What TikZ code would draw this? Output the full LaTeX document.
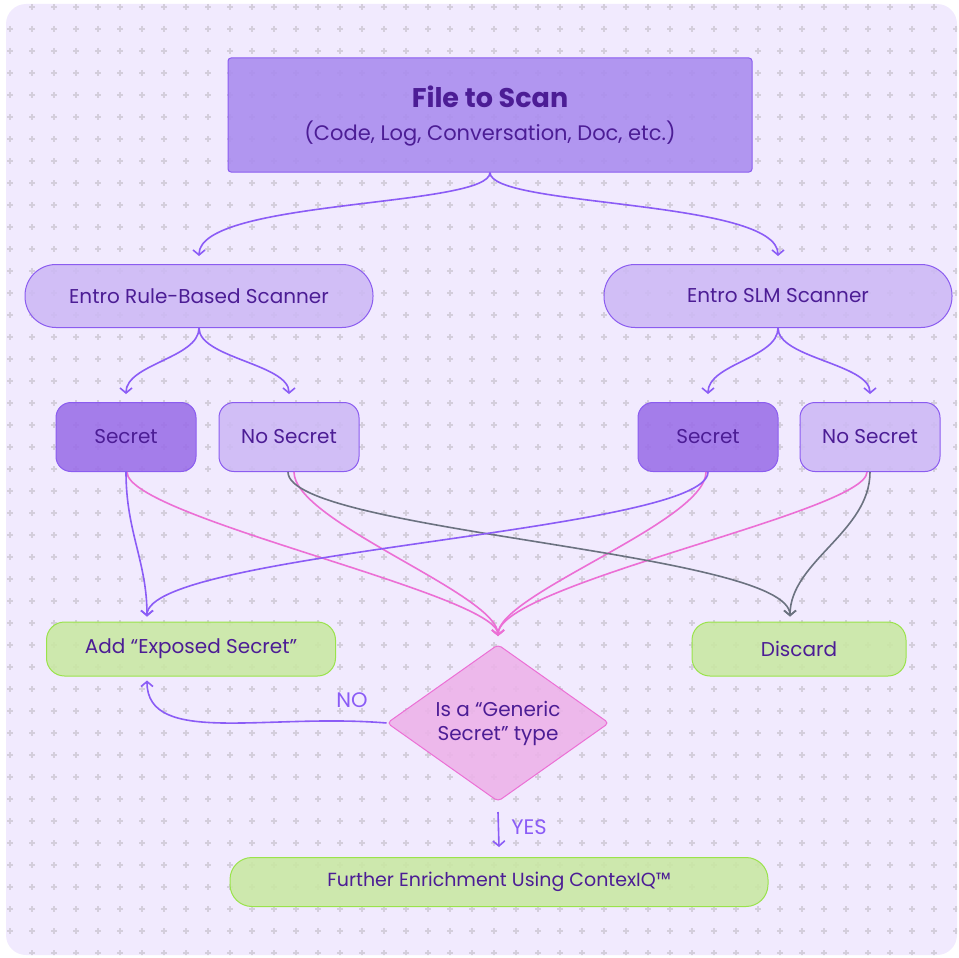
\documentclass[tikz,border=0pt]{standalone}
\usepackage{fontspec}
\setmainfont{Poppins}
\usetikzlibrary{arrows.meta,shapes.geometric}

\definecolor{pagebg}{HTML}{F1EAFE}
\definecolor{crossgray}{HTML}{D4CEDC}
\definecolor{inkviolet}{HTML}{4C1D95}
\definecolor{edgeviolet}{HTML}{8B5CF0}
\definecolor{fileviolet}{HTML}{A98BEF}
\definecolor{paleviolet}{HTML}{CDB9F5}
\definecolor{deepviolet}{HTML}{9A6EE8}
\definecolor{leafgreen}{HTML}{C9E8A2}
\definecolor{edgegreen}{HTML}{9AE34B}
\definecolor{rosefill}{HTML}{EDB2E9}
\definecolor{rosepink}{HTML}{EC6FD5}
\definecolor{linegray}{HTML}{6B7280}
\definecolor{lineviolet}{HTML}{8B5CF6}

\tikzset{
  basebox/.style={text=inkviolet, font=\fontsize{20}{24}\selectfont, line width=1pt,
    inner sep=0pt, fill opacity=0.88, text opacity=1},
  scanbox/.style={basebox, fill=paleviolet, draw=edgeviolet, rounded corners=31pt,
    minimum width=348pt, minimum height=63pt},
  secretbox/.style={basebox, fill=deepviolet, draw=edgeviolet, rounded corners=15pt,
    minimum width=140pt, minimum height=69pt},
  cleanbox/.style={basebox, fill=paleviolet, draw=edgeviolet, rounded corners=15pt,
    minimum width=140pt, minimum height=69pt},
  outbox/.style={basebox, fill=leafgreen, draw=edgegreen, rounded corners=18pt},
  checkbox/.style={basebox, diamond, aspect=1.41, fill=rosefill, draw=rosepink, rounded corners=4pt,
    inner sep=-8pt, minimum width=222pt, minimum height=157pt, align=center},
  link/.style={line width=1.6pt, -{Straight Barb[length=5pt,width=12pt,line width=1.6pt]}},
  tag/.style={text=lineviolet, font=\fontsize{21}{24}\selectfont}
}

\begin{document}
\begin{tikzpicture}[x=1pt,y=-1pt]
\useasboundingbox (0,0) rectangle (959,958);
% background with cross grid
\fill[pagebg, rounded corners=20pt] (6,4) rectangle (957,955);
\begin{scope}
\clip[rounded corners=20pt] (6,4) rectangle (957,955);
\foreach \i in {0,...,43}
  \foreach \j in {0,...,43}
    \draw[crossgray, line width=1.1pt] ({7+22*\i},{7+22*\j}) -- ++(6,0)
      ({10+22*\i},{4+22*\j}) -- ++(0,6);
\end{scope}

% nodes
\node[basebox, fill=fileviolet, draw=edgeviolet, rounded corners=3pt,
  minimum width=524pt, minimum height=114pt] (file) at (490,115) {};
\node[text=inkviolet, font=\fontsize{27}{30}\selectfont\bfseries] (filetitle) at (490,97) {File to Scan};
\node[text=inkviolet, font=\fontsize{21}{24}\selectfont] (filesub) at (490,134) {(Code, Log, Conversation, Doc, etc.)};

\node[scanbox] (rule) at (199,296) {Entro Rule-Based Scanner};
\node[scanbox] (slm) at (778,296) {Entro SLM Scanner};

\node[secretbox] (lsecret) at (126,437) {Secret};
\node[cleanbox] (lclean) at (289,437) {No Secret};
\node[secretbox] (rsecret) at (708,437) {Secret};
\node[cleanbox] (rclean) at (870,437) {No Secret};

\node[outbox, minimum width=289pt, minimum height=54pt] (expose) at (191,649) {Add “Exposed Secret”};
\node[outbox, minimum width=214pt, minimum height=54pt] (discard) at (799,649) {Discard};
\node[checkbox] (check) at (498,723) {Is a “Generic\\Secret” type};
\node[outbox, rounded corners=22pt, minimum width=538pt, minimum height=49pt,
  font=\fontsize{19}{22}\selectfont] (enrich) at (499,882) {Further Enrichment Using ContexIQ™};

% file to scanners
\draw[link, lineviolet, shorten >=8pt] (file.south) .. controls +(0,35) and +(0,-65) .. (rule.north);
\draw[link, lineviolet, shorten >=8pt] (file.south) .. controls +(0,35) and +(0,-65) .. (slm.north);

% scanners to results
\draw[link, lineviolet, shorten >=8pt] (rule.south) .. controls +(0,30) and +(0,-38) .. (lsecret.north);
\draw[link, lineviolet, shorten >=8pt] (rule.south) .. controls +(0,30) and +(0,-38) .. (lclean.north);
\draw[link, lineviolet, shorten >=8pt] (slm.south) .. controls +(0,30) and +(0,-38) .. (rsecret.north);
\draw[link, lineviolet, shorten >=8pt] (slm.south) .. controls +(0,30) and +(0,-38) .. (rclean.north);

% results to decisions
\draw[link, rosepink, shorten >=8pt] ([xshift=1pt]lsecret.south) .. controls +(0,45) and +(0,-50) .. (check.north);
\draw[link, rosepink, shorten >=8pt] ([xshift=5pt]lclean.south) .. controls +(0,50) and +(0,-50) .. (check.north);
\draw[link, rosepink, shorten >=8pt] ([xshift=-2pt]rsecret.south) .. controls +(0,50) and +(0,-50) .. (check.north);
\draw[link, rosepink, shorten >=8pt] ([xshift=-3pt]rclean.south) .. controls +(0,40) and +(0,-60) .. (check.north);
\draw[link, linegray, shorten >=5pt] ([xshift=-1pt]lclean.south) .. controls +(0,60) and +(0,-70) .. ([xshift=-9pt]discard.north);
\draw[link, linegray, shorten >=5pt] (rclean.south) .. controls +(0,60) and +(0,-60) .. ([xshift=-9pt]discard.north);
\draw[link, lineviolet, shorten >=5pt] (lsecret.south) .. controls +(0,60) and +(0,-60) .. ([xshift=-44pt]expose.north);
\draw[link, lineviolet, shorten >=5pt] (rsecret.south) .. controls +(0,60) and +(0,-70) .. ([xshift=-44pt]expose.north);

% decision outcomes
\draw[link, lineviolet, shorten >=4pt] (check.west) .. controls +(-120,-10) and +(0,70) .. ([xshift=-44pt]expose.south);
\node[tag] (notag) at (352,700) {NO};
\draw[link, lineviolet] ([yshift=-10pt]check.south) -- ([yshift=10pt]enrich.north);
\node[tag] (yestag) at (529,827) {YES};
\end{tikzpicture}
\end{document}
